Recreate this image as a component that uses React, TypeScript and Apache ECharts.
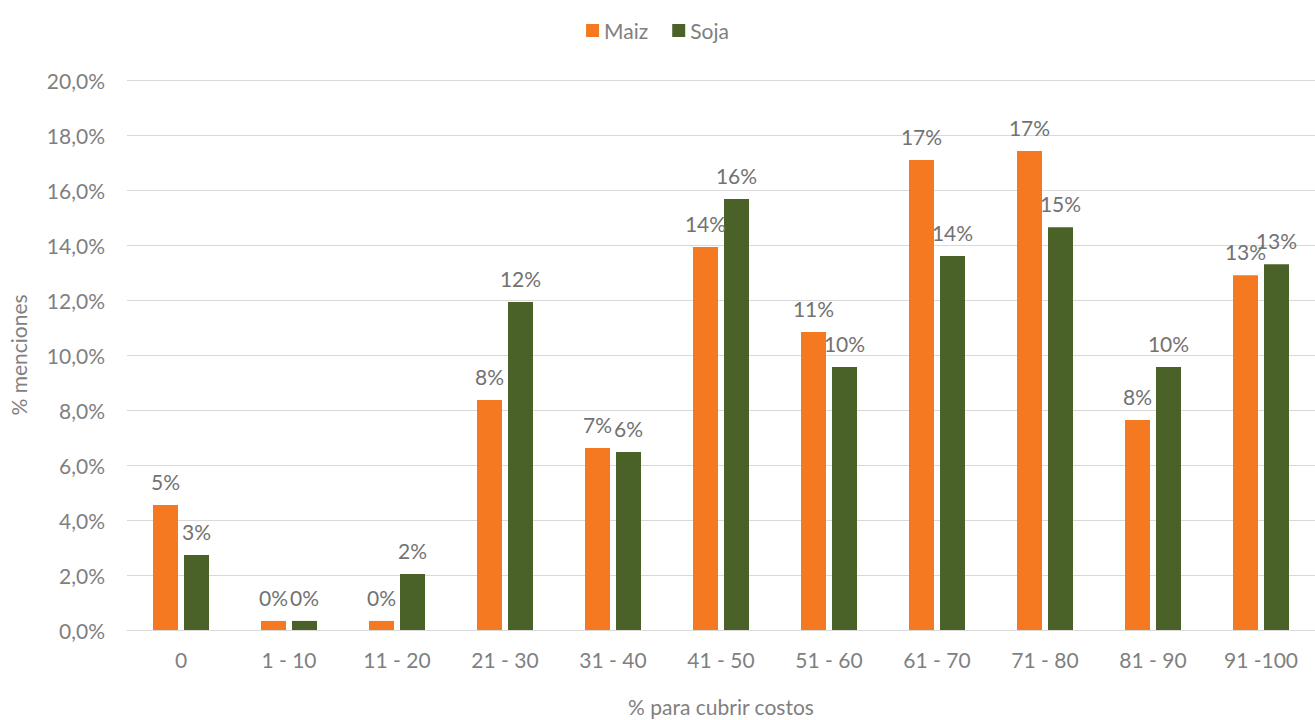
import React, { useEffect, useRef } from "react";
import * as echarts from "echarts";

const categories = ["0", "1 - 10", "11 - 20", "21 - 30", "31 - 40", "41 - 50", "51 - 60", "61 - 70", "71 - 80", "81 - 90", "91 -100"];
const maiz = [4.55, 0.33, 0.33, 8.36, 6.62, 13.93, 10.84, 17.09, 17.42, 7.64, 12.9];
const soja = [2.73, 0.33, 2.04, 11.93, 6.47, 15.67, 9.56, 13.6, 14.65, 9.56, 13.3];
const seriesNames = ["Maiz", "Soja"];
const colors = ["#F47920", "#4A6228"];

const FONT = "Lato, 'Open Sans', sans-serif";
const TEXT = "#7f7f7f";

export default function App() {
  const ref = useRef<HTMLDivElement>(null);

  useEffect(() => {
    if (!ref.current) return;
    const chart = echarts.init(ref.current, undefined, { renderer: "svg" });
    const label = {
      show: true,
      position: "top" as const,
      distance: 13,
      color: "#727272",
      fontSize: 21,
      fontFamily: FONT,
      formatter: (p: any) => Math.round(p.value) + "%",
    };
    chart.setOption({
      animation: false,
      backgroundColor: "#ffffff",
      textStyle: { fontFamily: FONT },
      color: colors,
      legend: {
        data: seriesNames,
        top: 15,
        left: "center",
        itemWidth: 13,
        itemHeight: 13,
        itemGap: 24,
        icon: "rect",
        textStyle: { color: TEXT, fontSize: 21, fontFamily: FONT },
      },
      grid: { left: 127, right: 0, top: 80, bottom: 90, containLabel: false, outerBoundsMode: "none" },
      xAxis: {
        type: "category",
        data: categories,
        name: "% para cubrir costos",
        nameLocation: "middle",
        nameGap: 66,
        nameTextStyle: { color: TEXT, fontSize: 21, fontFamily: FONT },
        axisLine: { lineStyle: { color: "#d9d9d9", width: 1 } },
        axisTick: { show: false },
        axisLabel: { color: TEXT, fontSize: 21, margin: 19, fontFamily: FONT },
      },
      yAxis: {
        type: "value",
        min: 0,
        max: 20,
        interval: 2,
        name: "% menciones",
        nameLocation: "middle",
        nameGap: 98,
        nameRotate: 90,
        nameTextStyle: { color: TEXT, fontSize: 21, fontFamily: FONT },
        axisLine: { show: false },
        axisTick: { show: false },
        splitLine: { lineStyle: { color: "#d9d9d9", width: 1 } },
        axisLabel: {
          color: TEXT,
          fontSize: 21,
          margin: 22,
          fontFamily: FONT,
          formatter: (v: number) => v.toFixed(1).replace(".", ",") + "%",
        },
      },
      series: [
        { name: seriesNames[0], type: "bar", data: maiz, barWidth: 25, barGap: "24%", label },
        { name: seriesNames[1], type: "bar", data: soja, barWidth: 25, barGap: "24%", label },
      ],
    });
    return () => chart.dispose();
  }, []);

  return (
    <div
      ref={ref}
      style={{ position: "fixed", left: 0, top: 0, width: 1315, height: 720, background: "#fff" }}
    />
  );
}
